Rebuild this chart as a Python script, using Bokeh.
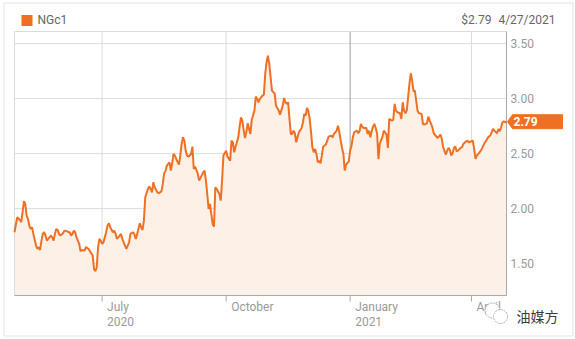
import pandas as pd
from bokeh.plotting import figure
from bokeh.models import Range1d
from bokeh.core.properties import value
from bokeh.embed import file_html
from bokeh.resources import INLINE

# ---------------- data ----------------
start_date = "2020-04-27"
end_date = "2021-04-27"
symbol = "NGc1"
last_price = "$2.79"
last_date = "4/27/2021"
tag_value = 2.79

day_offsets = [
    0, 2, 4, 5, 6, 7, 8, 9, 10, 11, 12, 13, 14, 16, 17, 18, 19, 20, 21, 22, 23, 24, 25, 27, 28, 29, 30, 31,
    32, 33, 34, 36, 37, 39, 40, 41, 42, 43, 44, 45, 46, 48, 49, 50, 52, 53, 55, 56, 58, 59, 60, 61, 62, 63,
    64, 65, 66, 68, 69, 70, 71, 73, 74, 75, 76, 77, 79, 80, 81, 83, 84, 85, 86, 88, 89, 90, 91, 93,
    94, 95, 96, 97, 99, 100, 101, 102, 103, 104, 106, 107, 109, 110, 111, 112, 113, 115, 116, 117, 118, 119,
    120, 122, 123, 124, 125, 126, 127, 128, 129, 131, 132, 133, 134, 136, 137, 138, 140, 141, 142, 143, 144,
    145, 146, 147, 148, 149, 150, 152, 153, 154, 155, 157, 158, 160, 161, 162, 163, 164, 165, 166, 167, 168,
    169, 170, 171, 172, 173, 174, 175, 176, 178, 179, 180, 181, 182,
    184, 185, 186, 187, 188, 189, 190, 191, 192, 193, 194, 196, 197, 199, 200, 201, 202, 203, 204, 205, 206,
    207, 208, 209, 210, 211, 213, 214, 215, 216, 217, 218, 219, 220, 221, 222, 223, 224, 225, 226, 227, 228,
    229, 231, 232, 233, 235, 236, 237, 238, 239, 240, 241, 242, 243, 244, 245, 246, 248, 249, 250, 251, 252,
    254, 255, 256, 257, 258, 259, 261, 262, 263, 264, 265, 266, 267, 268, 269, 270, 271,
    273, 274, 276, 277, 278, 280, 281, 282, 283, 284, 286, 287, 288, 289, 290, 291, 292, 293, 294, 295, 296,
    297, 298, 299, 300, 302, 303, 304, 306, 307, 308, 310, 311, 313, 314, 316, 317, 318, 320, 321, 322, 323,
    324, 325, 326, 327, 328, 329, 331, 332, 333, 335, 336, 337, 339, 340, 341, 342, 343, 345, 346, 347, 349,
    350, 351, 352, 353, 355, 356, 358, 359, 360, 361, 362, 363, 364, 365,
]
prices = [
    1.785, 1.921, 1.897, 1.876, 1.967, 2.067, 2.043, 1.936, 1.906, 1.845, 1.815, 1.830, 1.770, 1.664, 1.633,
    1.649, 1.624, 1.709, 1.770, 1.785, 1.755, 1.709, 1.724, 1.755, 1.739, 1.709, 1.770, 1.815, 1.806, 1.770,
    1.755, 1.776, 1.800, 1.794, 1.785, 1.785, 1.755, 1.770, 1.800, 1.785, 1.739, 1.679, 1.612, 1.624, 1.618,
    1.649, 1.633, 1.612, 1.573, 1.451, 1.430, 1.467, 1.649, 1.724, 1.709, 1.679, 1.694, 1.785, 1.845, 1.867,
    1.830, 1.785, 1.800, 1.770, 1.724, 1.739, 1.770, 1.724, 1.694, 1.633, 1.664, 1.694, 1.770, 1.785, 1.764,
    1.724, 1.770, 1.867,
    1.830, 1.806, 1.891, 2.103, 2.179, 2.200, 2.179, 2.148, 2.239, 2.194, 2.148, 2.139, 2.157, 2.224, 2.321,
    2.339, 2.391, 2.421, 2.345, 2.412, 2.497, 2.482, 2.451, 2.400, 2.482, 2.588, 2.648, 2.618, 2.527, 2.482,
    2.472, 2.497, 2.563, 2.360, 2.382, 2.315, 2.254, 2.279, 2.330, 2.345, 2.254, 2.133, 1.997, 2.042, 1.951,
    1.860, 1.836, 2.194, 2.179, 2.133, 2.073, 2.254, 2.482, 2.527, 2.472, 2.436, 2.618, 2.603, 2.512, 2.563,
    2.603, 2.648, 2.745, 2.830, 2.800, 2.715, 2.642, 2.694, 2.775, 2.724, 2.679, 2.806, 2.891, 3.018, 2.997,
    2.966, 2.997,
    3.027, 3.036, 3.224, 3.330, 3.391, 3.315, 3.194, 3.073, 3.058, 3.048, 2.936, 2.891, 2.854, 2.936, 3.006,
    2.966, 2.951, 2.966, 2.815, 2.679, 2.679, 2.709, 2.685, 2.603, 2.648, 2.694, 2.733, 2.785, 2.860, 2.845,
    2.915, 2.885, 2.815, 2.694, 2.557, 2.512, 2.542, 2.497, 2.421, 2.436, 2.412, 2.482, 2.563, 2.582, 2.618,
    2.654, 2.663, 2.648, 2.679, 2.694, 2.709, 2.754, 2.694, 2.618, 2.551, 2.497, 2.345, 2.400, 2.430, 2.527,
    2.572, 2.648, 2.694, 2.709, 2.685, 2.703, 2.770, 2.745, 2.733, 2.733, 2.679, 2.709, 2.648, 2.703, 2.745,
    2.770, 2.733, 2.680, 2.450, 2.590,
    2.655, 2.709, 2.673, 2.552, 2.815, 2.800, 2.806, 2.952, 2.891, 2.876, 2.867, 2.815, 2.967, 2.891, 2.867,
    2.891, 3.012, 3.133, 3.230, 3.164, 3.067, 3.073, 2.982, 2.891, 2.867, 2.861, 2.770, 2.764, 2.776, 2.836,
    2.800, 2.740, 2.685, 2.655, 2.642, 2.673, 2.633, 2.558, 2.491, 2.527, 2.552, 2.533, 2.482, 2.503, 2.552,
    2.564, 2.521, 2.527, 2.552, 2.558, 2.588, 2.612, 2.618, 2.603, 2.612, 2.618, 2.543, 2.452, 2.482, 2.512,
    2.527, 2.552, 2.603, 2.618, 2.642, 2.655, 2.664, 2.724, 2.709, 2.685, 2.724, 2.703, 2.740, 2.785, 2.794,
    2.785, 2.790,
]
y_ticks = [1.5, 2.0, 2.5, 3.0, 3.5]
y_tick_labels = ["1.50", "2.00", "2.50", "3.00", "3.50"]
x_tick_dates = ["2020-07-01", "2020-10-01", "2021-01-01", "2021-04-01"]
x_tick_month = ["July", "October", "January", "April"]
x_tick_year = ["2020", "", "2021", ""]
year_start_tick = "2021-01-01"
watermark = "油媒方"

# ---------------- styling ----------------
ORANGE = "#f07023"
FILL = "#fdf0e7"
GRID = "#dcdcdc"
AXIS = "#a9a9a9"
TXT = "#9a9a9a"
FONT = value("Roboto")

W, H = 575, 339
# chart frame inside the canvas (pixels)
FL, FT, FRX, FBY = 14, 31, 506, 295
y_lo, y_hi = 1.21, 3.61

d0 = pd.Timestamp(start_date)
d1 = pd.Timestamp(end_date)
dates = d0 + pd.to_timedelta(day_offsets, unit="D")
ms0 = d0.value / 1e6
ms1 = d1.value / 1e6


def sx(px):  # canvas pixel -> x data (ms)
    return ms0 + (px - FL) / (FRX - FL) * (ms1 - ms0)


def sy(py):  # canvas pixel -> y data
    return y_hi - (py - FT) / (FBY - FT) * (y_hi - y_lo)


def ms(d):
    return pd.Timestamp(d).value / 1e6


p = figure(width=W, height=H, x_axis_type=None, y_axis_type=None,
           x_range=Range1d(sx(0), sx(W)), y_range=Range1d(sy(H), sy(0)),
           output_backend="svg", toolbar_location=None,
           min_border=0, min_border_left=0, min_border_right=0, min_border_top=0, min_border_bottom=0)
p.title.visible = False
p.outline_line_color = None
p.background_fill_color = "white"
p.border_fill_color = "white"
p.grid.visible = False

tick_ms = [ms(d) for d in x_tick_dates]
jan_ms = ms(year_start_tick)
grid_x = [t for t in tick_ms if t != jan_ms]

# grid lines limited to the chart area
p.segment(x0=grid_x, y0=[y_lo] * len(grid_x), x1=grid_x, y1=[y_hi] * len(grid_x),
          line_color=GRID, line_width=1)
p.segment(x0=[ms0] * len(y_ticks), y0=y_ticks, x1=[ms1] * len(y_ticks), y1=y_ticks,
          line_color=GRID, line_width=1)
# darker year-start line
p.segment(x0=[jan_ms], y0=[y_lo], x1=[jan_ms], y1=[y_hi], line_color="#9c9c9c", line_width=1)

# outer panel border
p.quad(left=sx(3.5), right=sx(572.5), top=sy(2.5), bottom=sy(335.5), fill_alpha=0,
       line_color="#e3e3e3", line_width=1)

# area
p.varea(x=dates, y1=y_lo, y2=prices, fill_color=FILL, fill_alpha=1)

# chart outline: light top/left, darker bottom/right axis lines
p.segment(x0=[ms0, ms0], y0=[y_hi, y_lo], x1=[ms1, ms0], y1=[y_hi, y_hi], line_color=GRID, line_width=1)
p.segment(x0=[ms0, ms1], y0=[y_lo, y_lo], x1=[ms1, ms1], y1=[y_lo, y_hi], line_color=AXIS, line_width=1)
# x ticks
p.segment(x0=tick_ms, y0=[y_lo] * len(tick_ms), x1=tick_ms, y1=[sy(FBY + 6)] * len(tick_ms),
          line_color=AXIS, line_width=1)

# price line
p.line(x=dates, y=prices, line_color=ORANGE, line_width=2)

# x tick labels
lab_dx = sx(5) - sx(0)
p.text(x=[t + lab_dx for t in tick_ms], y=[sy(306)] * len(tick_ms), text=x_tick_month,
       text_font=FONT, text_font_size="12px", text_color=TXT, text_baseline="middle", text_align="left")
p.text(x=[t + lab_dx for t, yr in zip(tick_ms, x_tick_year) if yr],
       y=[sy(321)] * sum(1 for yr in x_tick_year if yr), text=[yr for yr in x_tick_year if yr],
       text_font=FONT, text_font_size="12px", text_color=TXT, text_baseline="middle", text_align="left")

# y tick labels (right side)
p.text(x=[sx(510)] * len(y_ticks), y=y_ticks, text=y_tick_labels, text_font=FONT, text_font_size="12px",
       text_color=TXT, text_baseline="middle", text_align="left")

# header
p.quad(left=sx(21), right=sx(32), top=sy(14.5), bottom=sy(25.5), fill_color=ORANGE, line_color=None)
p.text(x=[sx(37)], y=[sy(19.5)], text=[symbol], text_font=FONT, text_font_size="12px",
       text_color="#666666", text_baseline="middle", text_align="left")
p.text(x=[sx(491)], y=[sy(19.5)], text=[last_price], text_font=FONT,
       text_font_size="12px", text_color="#666666", text_baseline="middle", text_align="right")
p.text(x=[sx(555)], y=[sy(19.5)], text=[last_date], text_font=FONT,
       text_font_size="12px", text_color="#666666", text_baseline="middle", text_align="right")

# price tag on the right axis, pointing at the last value
tip_y = tag_value
half = (y_hi - y_lo) / (FBY - FT) * 7
p.patch(x=[sx(507), sx(512), sx(562), sx(562), sx(512)],
        y=[tip_y, tip_y + half, tip_y + half, tip_y - half, tip_y - half],
        fill_color=ORANGE, line_color=ORANGE, line_width=1)
p.text(x=[sx(513)], y=[tip_y], text=[f"{tag_value:.2f}"], text_font=FONT, text_font_size="12px",
       text_font_style="bold", text_color="white", text_baseline="middle", text_align="left")

# watermark (chat-bubble icon + name)
p.scatter(x=[sx(492), sx(500)], y=[sy(310), sy(316)], size=[15, 14], marker="circle",
          fill_color="white", line_color="#9a9a9a", line_width=0.8, line_dash="2 1")
p.text(x=[sx(516)], y=[sy(315)], text=[watermark], text_font=value("Noto Sans CJK SC"),
       text_font_size="14px", text_color="#3a3a3a", text_baseline="middle", text_align="left")

open("out.html", "w").write(file_html(p, INLINE))
